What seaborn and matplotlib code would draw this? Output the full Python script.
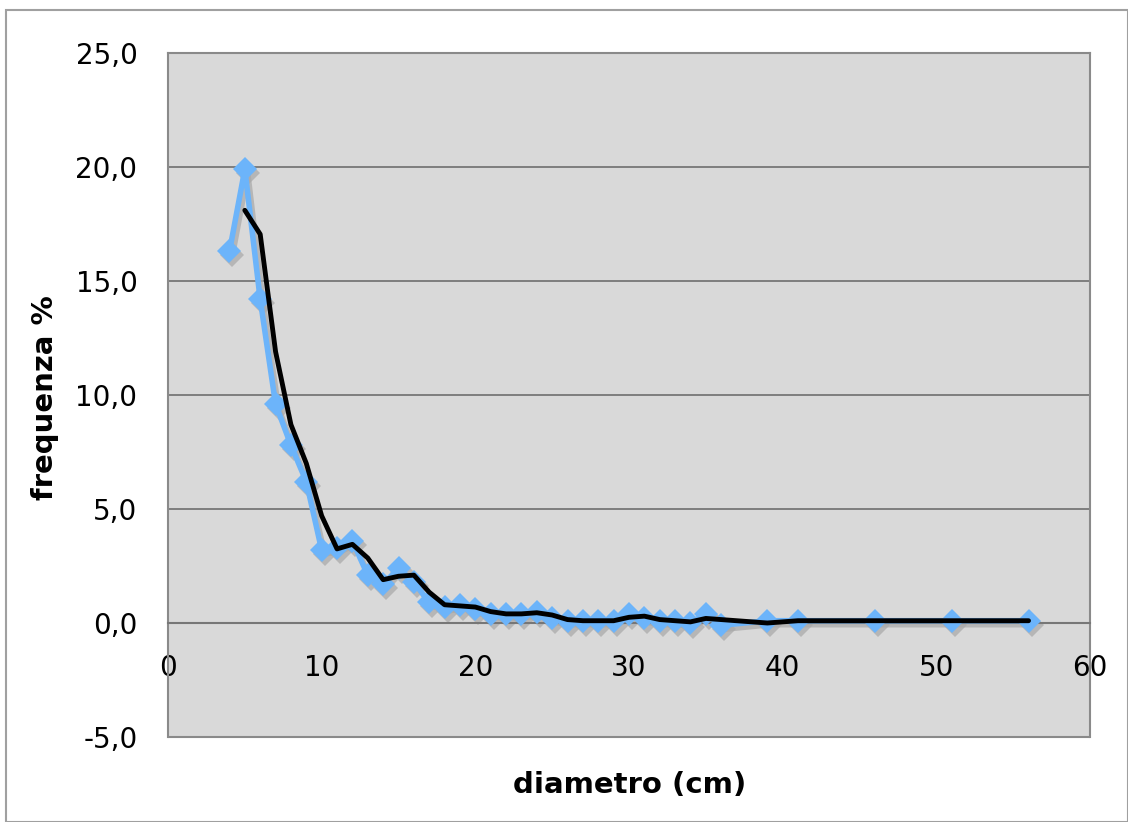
import matplotlib
matplotlib.use("Agg")
import matplotlib.pyplot as plt
import matplotlib.transforms as mtransforms
from matplotlib.patches import Rectangle
import seaborn as sns
import numpy as np
import pandas as pd

diametro = [4, 5, 6, 7, 8, 9, 10, 11, 12, 13, 14, 15, 16, 17, 18, 19, 20, 21, 22, 23,
            24, 25, 26, 27, 28, 29, 30, 31, 32, 33, 34, 35, 36, 39, 41, 46, 51, 56]
frequenza = [16.3, 19.9, 14.2, 9.6, 7.8, 6.2, 3.2, 3.3, 3.6, 2.1, 1.7, 2.4, 1.8, 0.9, 0.7,
             0.8, 0.6, 0.4, 0.4, 0.4, 0.5, 0.2, 0.1, 0.1, 0.1, 0.1, 0.4, 0.2, 0.1, 0.1,
             0.0, 0.4, -0.1, 0.1, 0.1, 0.1, 0.1, 0.1]
y_ticks = [-5, 0, 5, 10, 15, 20, 25]
x_ticks = [0, 10, 20, 30, 40, 50, 60]

df = pd.DataFrame({"diametro": diametro, "frequenza": frequenza})
# 2-period moving average trendline
df["media"] = df["frequenza"].rolling(2).mean()
ma = df.dropna()

sns.set_style("white")
plt.rcParams["font.family"] = ["DejaVu Sans"]
plt.rcParams["text.color"] = "black"

fig = plt.figure(figsize=(11.28, 8.22), dpi=100)
fig.patches.append(Rectangle((6 / 1128, 0), 1 - 6 / 1128, 1 - 10 / 822,
                             transform=fig.transFigure, fill=False,
                             edgecolor="#a0a0a0", linewidth=1.5))
ax = fig.add_axes([168 / 1128, 1 - 737 / 822, (1090 - 168) / 1128, (737 - 53) / 822])
ax.set_facecolor("#d9d9d9")

blue = "#6cb4fa"
shadow = mtransforms.offset_copy(ax.transData, fig=fig, x=3, y=-4, units="dots")
ax.plot(df["diametro"], df["frequenza"], color="#a8a8a8", lw=4, marker="D",
        markersize=12, markeredgewidth=0, transform=shadow, zorder=2, alpha=0.7)
sns.lineplot(data=df, x="diametro", y="frequenza", ax=ax, color=blue, lw=4,
             marker="D", markersize=12, markeredgewidth=0, zorder=3)
sns.lineplot(data=ma, x="diametro", y="media", ax=ax, color="black", lw=3.5, zorder=4)

ax.spines["bottom"].set_position(("data", 0))
ax.set_xlim(0, 60)
ax.set_ylim(-5, 25)
ax.set_xticks(x_ticks)
ax.set_yticks(y_ticks)
ax.set_xticklabels([str(v) for v in x_ticks])
ax.set_yticklabels([f"{v:.1f}".replace(".", ",") for v in y_ticks])
for v in y_ticks[2:]:
    ax.axhline(v, color="#777777", lw=1.3, zorder=1)
ax.axhline(-5, color="#8a8a8a", lw=1.5, zorder=1, clip_on=False)

for s in ["top", "right", "left"]:
    ax.spines[s].set_color("#8a8a8a")
    ax.spines[s].set_linewidth(1.5)
ax.spines["bottom"].set_color("#777777")
ax.spines["bottom"].set_linewidth(1.5)
ax.tick_params(axis="x", direction="out", length=8, width=1.2, color="#777777", pad=14,
               labelsize=20, labelcolor="black")
ax.tick_params(axis="y", direction="out", length=8, width=1.2, color="#8a8a8a", pad=14,
               labelsize=20, labelcolor="black")

ax.set_xlabel("")
ax.set_ylabel("")
fig.text(630 / 1128, 1 - 785 / 822, "diametro (cm)", fontsize=21, fontweight="bold",
         ha="center", va="center", color="black")
fig.text(45 / 1128, 1 - 398 / 822, "frequenza %", fontsize=21, fontweight="bold",
         ha="center", va="center", rotation=90, color="black")

fig.savefig("out.png", dpi=100)
